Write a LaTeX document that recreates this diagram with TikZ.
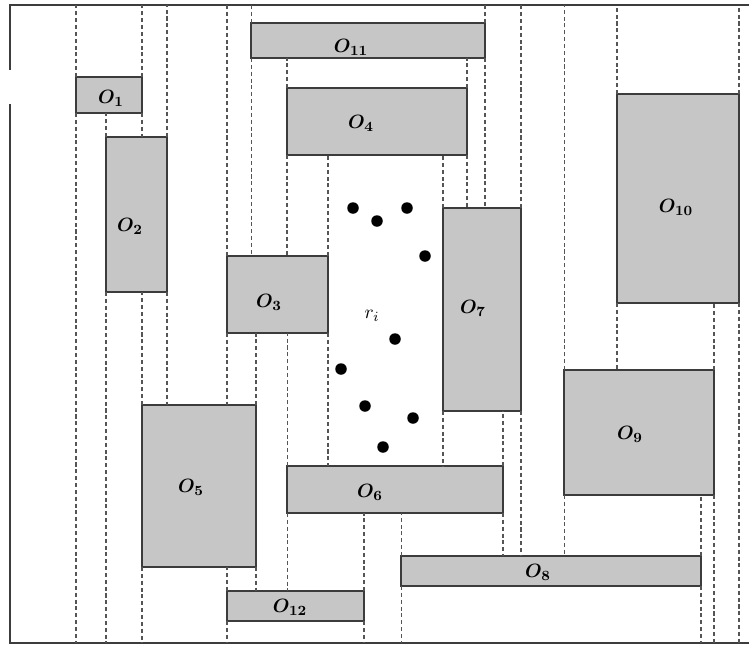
\documentclass[tikz,border=0pt]{standalone}
\usepackage{amsmath}
\usepackage{tikz}
\usetikzlibrary{calc}
\definecolor{ink}{RGB}{60,60,60}
\definecolor{cObj}{RGB}{198,198,198}
\definecolor{guide}{RGB}{85,85,85}

\begin{document}
\begin{tikzpicture}[
  x=0.02cm, y=-0.02cm,
  obj/.style={rectangle, draw=ink, line width=0.9pt, fill=cObj, inner sep=0pt, outer sep=0pt},
  lbl/.style={inner sep=0pt, font=\fontsize{11pt}{13pt}\selectfont\boldmath},
  sweep/.style={draw=guide, line width=0.6pt, dash pattern=on 2.3pt off 1.6pt},
  frame/.style={draw=ink, line width=0.9pt},
]
\useasboundingbox (0,0) rectangle (749,646);

% ---- frame ----
\coordinate (top) at (0,5);
\coordinate (bot) at (0,643);
\draw[frame] (749,5) -- (10,5) -- (10,70);
\draw[frame] (10,104) -- (10,643) -- (749,643);

% ---- obstacles ----
\node[obj, minimum width=1.32cm, minimum height=0.72cm] (O1)  at (109,95)    {};
\node[obj, minimum width=1.22cm, minimum height=3.10cm] (O2)  at (136.5,214.5) {};
\node[obj, minimum width=2.02cm, minimum height=1.54cm] (O3)  at (277.5,294.5) {};
\node[obj, minimum width=3.60cm, minimum height=1.34cm] (O4)  at (377,121.5)  {};
\node[obj, minimum width=2.28cm, minimum height=3.24cm] (O5)  at (199,486)    {};
\node[obj, minimum width=4.32cm, minimum height=0.94cm] (O6)  at (395,489.5)  {};
\node[obj, minimum width=1.56cm, minimum height=4.06cm] (O7)  at (482,309.5)  {};
\node[obj, minimum width=6.00cm, minimum height=0.60cm] (O8)  at (551,571)    {};
\node[obj, minimum width=3.00cm, minimum height=2.50cm] (O9)  at (639,432.5)  {};
\node[obj, minimum width=2.44cm, minimum height=4.18cm] (O10) at (678,198.5)  {};
\node[obj, minimum width=4.68cm, minimum height=0.70cm] (O11) at (368,40.5)   {};
\node[obj, minimum width=2.74cm, minimum height=0.60cm] (O12) at (295.5,606)  {};

% ---- labels ----
\node[lbl] (L1)  at (111,98)    {$O_{1}$};
\node[lbl] (L2)  at (130,226)   {$O_{2}$};
\node[lbl] (L3)  at (269,302)   {$O_{3}$};
\node[lbl] (L4)  at (361,123)   {$O_{4}$};
\node[lbl] (L5)  at (191,487)   {$O_{5}$};
\node[lbl] (L6)  at (370,492)   {$O_{6}$};
\node[lbl] (L7)  at (473,308)   {$O_{7}$};
\node[lbl] (L8)  at (538,572)   {$O_{8}$};
\node[lbl] (L9)  at (630,434)   {$O_{9}$};
\node[lbl] (L10) at (676,207)   {$O_{10}$};
\node[lbl] (L11) at (351,47)    {$O_{11}$};
\node[lbl] (L12) at (290,607)   {$O_{12}$};
\node[inner sep=0pt, font=\fontsize{11pt}{13pt}\selectfont] (R) at (372,316) {$r_i$};

% ---- sample points ----
\foreach \p in {(353,208),(377,221),(407,208),(425,256),(395,339),
                (341,369),(365,406),(413,418),(383,447)}
  \fill[black] \p circle[radius=0.115cm];

% ---- sweep lines (up from the top edge, down from the bottom edge) ----
\draw[sweep] (O1.north west) -- (O1.north west |- top);
\draw[sweep] (O1.south west) -- (O1.south west |- bot);
\draw[sweep] (O1.north east) -- (O1.north east |- top);
\draw[sweep] (O1.south east) -- (O1.south east |- O2.north);

\draw[sweep] (O2.north west) -- (O2.north west |- O1.south);
\draw[sweep] (O2.south west) -- (O2.south west |- bot);
\draw[sweep] (O2.north east) -- (O2.north east |- top);
\draw[sweep] (O2.south east) -- (O2.south east |- O5.north);

\draw[sweep] (O5.north west) -- (O5.north west |- O2.south);
\draw[sweep] (O5.south west) -- (O5.south west |- bot);
\draw[sweep] (O5.north east) -- (O5.north east |- O3.south);
\draw[sweep] (O5.south east) -- (O5.south east |- O12.north);

\draw[sweep] (O3.north west) -- (O3.north west |- top);
\draw[sweep] (O3.south west) -- (O3.south west |- O5.north);
\draw[sweep] (O3.north east) -- (O3.north east |- O4.south);
\draw[sweep] (O3.south east) -- (O3.south east |- O6.north);

\draw[sweep] (O12.north west) -- (O12.north west |- O5.south);
\draw[sweep] (O12.south west) -- (O12.south west |- bot);
\draw[sweep] (O12.north east) -- (O12.north east |- O6.south);
\draw[sweep] (O12.south east) -- (O12.south east |- bot);

\draw[sweep] (O11.north west) -- (O11.north west |- top);
\draw[sweep] (O11.south west) -- (O11.south west |- O3.north);
\draw[sweep] (O11.north east) -- (O11.north east |- top);
\draw[sweep] (O11.south east) -- (O11.south east |- O7.north);

\draw[sweep] (O4.north west) -- (O4.north west |- O11.south);
\draw[sweep] (O4.south west) -- (O4.south west |- O3.north);
\draw[sweep] (O4.north east) -- (O4.north east |- O11.south);
\draw[sweep] (O4.south east) -- (O4.south east |- O7.north);

\draw[sweep] (O7.north west) -- (O7.north west |- O4.south);
\draw[sweep] (O7.south west) -- (O7.south west |- O6.north);
\draw[sweep] (O7.north east) -- (O7.north east |- top);
\draw[sweep] (O7.south east) -- (O7.south east |- O8.north);

\draw[sweep] (O6.north west) -- (O6.north west |- O3.south);
\draw[sweep] (O6.south west) -- (O6.south west |- O12.north);
\draw[sweep] (O6.north east) -- (O6.north east |- O7.south);
\draw[sweep] (O6.south east) -- (O6.south east |- O8.north);

\draw[sweep] (O8.north west) -- (O8.north west |- O6.south);
\draw[sweep] (O8.south west) -- (O8.south west |- bot);
\draw[sweep] (O8.north east) -- (O8.north east |- O9.south);
\draw[sweep] (O8.south east) -- (O8.south east |- bot);

\draw[sweep] (O9.north west) -- (O9.north west |- top);
\draw[sweep] (O9.south west) -- (O9.south west |- O8.north);
\draw[sweep] (O9.north east) -- (O9.north east |- O10.south);
\draw[sweep] (O9.south east) -- (O9.south east |- bot);

\draw[sweep] (O10.north west) -- (O10.north west |- top);
\draw[sweep] (O10.south west) -- (O10.south west |- O9.north);
\draw[sweep] (O10.north east) -- (O10.north east |- top);
\draw[sweep] (O10.south east) -- (O10.south east |- bot);

\end{tikzpicture}
\end{document}
